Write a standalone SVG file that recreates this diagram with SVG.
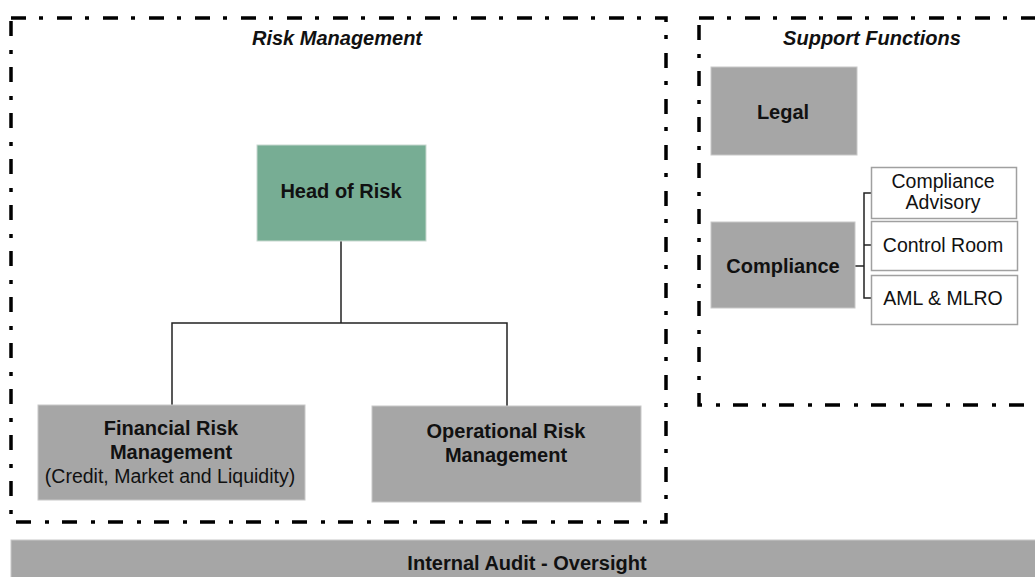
<svg xmlns="http://www.w3.org/2000/svg" width="1035" height="577" viewBox="0 0 1035 577">
  <style>
    .frame { fill: none; stroke: #000; stroke-width: 3.5; stroke-dasharray: 15 13 4 14; }
    .grey { fill: #a6a6a6; stroke: #c8c8c8; stroke-width: 1; }
    .green { fill: #77ad94; stroke: #c8d8cf; stroke-width: 1; }
    .sub { fill: #fff; stroke: #a0a0a0; stroke-width: 1.5; }
    .link { fill: none; stroke: #222; stroke-width: 1.5; }
    text { font-family: "Liberation Sans", Arial, sans-serif; fill: #111; text-anchor: middle; }
    .b { font-weight: bold; font-size: 20px; }
    .t { font-weight: bold; font-style: italic; font-size: 20px; }
    .r { font-size: 19.5px; }
  </style>

  <!-- section frames -->
  <g id="risk-management">
    <rect class="frame" x="11" y="18" width="655" height="504"/>
    <text class="t" x="337" y="45">Risk Management</text>
  </g>
  <g id="support-functions">
    <rect class="frame" x="699" y="18" width="360" height="387"/>
    <text class="t" x="872" y="45">Support Functions</text>
  </g>

  <!-- connectors -->
  <g id="connectors">
    <polyline class="link" points="341,241 341,323"/>
    <polyline class="link" points="172,405 172,323 507,323 507,406"/>
    <polyline class="link" points="855,266 864,266"/>
    <polyline class="link" points="871,193 864,193 864,298 871,298"/>
    <polyline class="link" points="864,245 871,245"/>
  </g>

  <g id="head-of-risk">
    <rect class="green" x="257" y="145" width="169" height="96"/>
    <text class="b" x="341" y="198">Head of Risk</text>
  </g>

  <g id="financial-risk">
    <rect class="grey" x="38" y="405" width="267" height="95"/>
    <text class="b" x="171" y="435">Financial Risk</text>
    <text class="b" x="171" y="459">Management</text>
    <text class="r" x="170" y="483">(Credit, Market and Liquidity)</text>
  </g>

  <g id="operational-risk">
    <rect class="grey" x="372" y="406" width="269" height="96"/>
    <text class="b" x="506" y="438">Operational Risk</text>
    <text class="b" x="506" y="462">Management</text>
  </g>

  <g id="legal">
    <rect class="grey" x="711" y="67" width="146" height="88"/>
    <text class="b" x="783" y="119">Legal</text>
  </g>

  <g id="compliance">
    <rect class="grey" x="711" y="222" width="144" height="86"/>
    <text class="b" x="783" y="273">Compliance</text>
  </g>

  <g id="compliance-advisory">
    <rect class="sub" x="871.5" y="167.5" width="145" height="51"/>
    <text class="r" x="943" y="188">Compliance</text>
    <text class="r" x="943" y="209">Advisory</text>
  </g>

  <g id="control-room">
    <rect class="sub" x="871.5" y="221.5" width="146" height="49"/>
    <text class="r" x="943" y="252">Control Room</text>
  </g>

  <g id="aml-mlro">
    <rect class="sub" x="871.5" y="275.5" width="146" height="49"/>
    <text class="r" x="943" y="305">AML &amp; MLRO</text>
  </g>

  <g id="internal-audit">
    <rect class="grey" x="11" y="540" width="1030" height="45"/>
    <text class="b" x="527" y="570">Internal Audit - Oversight</text>
  </g>
</svg>
